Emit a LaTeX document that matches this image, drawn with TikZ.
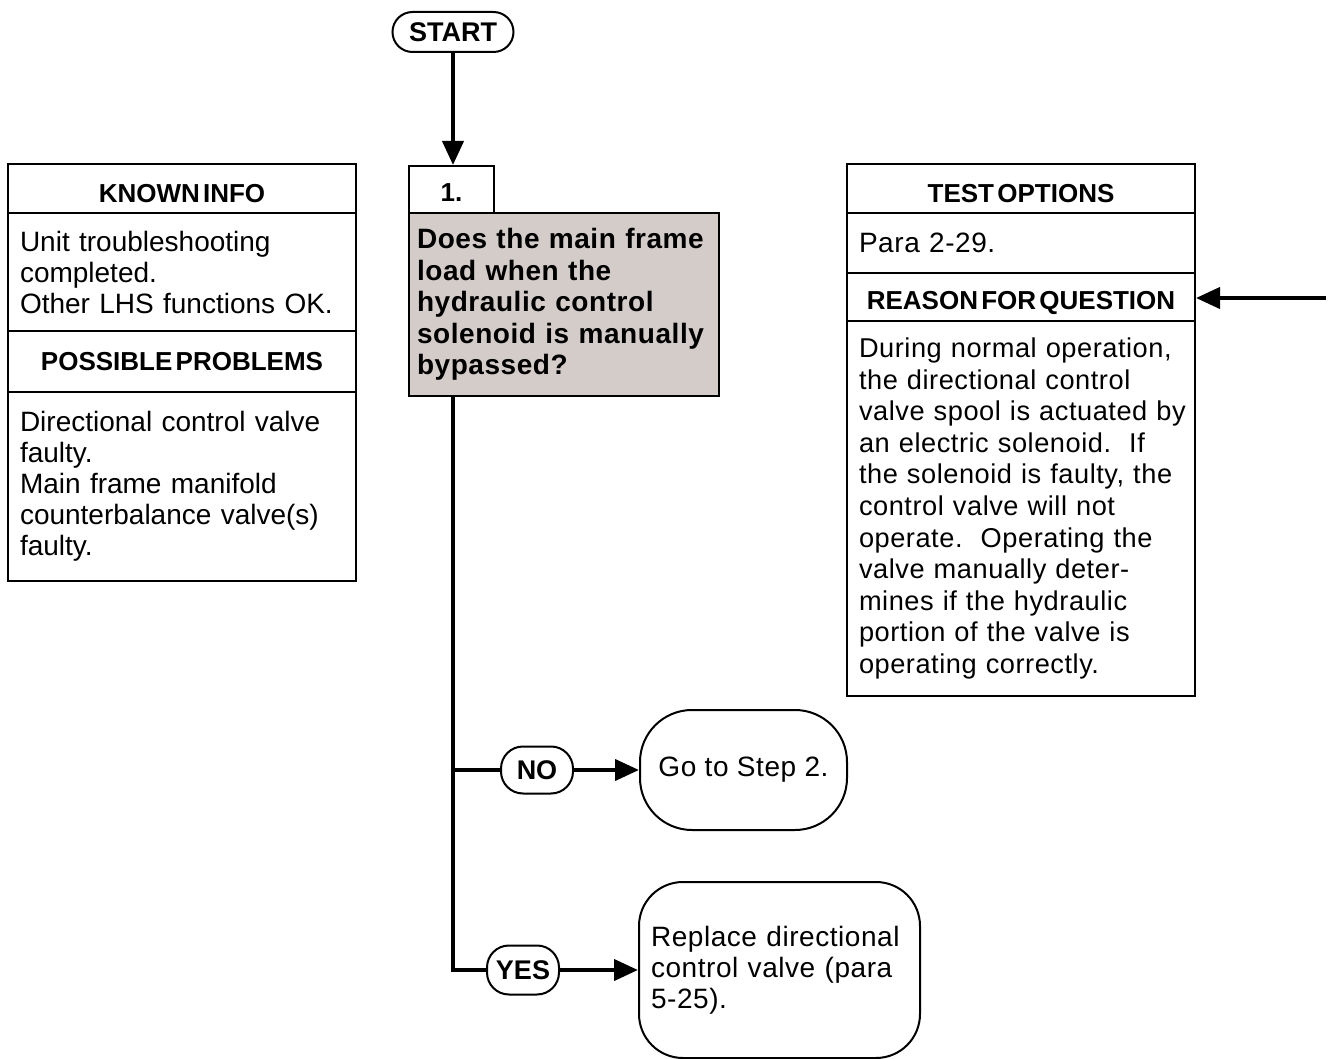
\documentclass[tikz,border=0pt]{standalone}
\usepackage{fontspec}
\setmainfont{Liberation Sans}
\newfontfamily\headfont[WordSpace=0.45]{Liberation Sans}
\newfontfamily\spacedfont[LetterSpace=2]{Liberation Sans}
\newfontfamily\askfont[LetterSpace=2]{Liberation Sans}
\usetikzlibrary{arrows.meta, positioning}
\definecolor{askgray}{RGB}{212,204,201}

\begin{document}
\begin{tikzpicture}[x=0.5pt,y=-0.5pt,
    frame/.style={draw,line width=1pt,anchor=north west,inner sep=0pt},
    head/.style={frame,minimum width=174pt,font=\headfont\bfseries\fontsize{13}{15}\selectfont},
    headlow/.style={text height=#1,text depth=0pt},
    body/.style={frame,inner xsep=6pt,text width=162pt,align=left,font=\fontsize{14}{15.5}\selectfont},
    pill/.style={draw,line width=1pt,rounded corners=11pt,inner sep=2pt,minimum height=23.5pt,
                 font=\headfont\bfseries\fontsize{13.5}{15}\selectfont},
    endbox/.style={draw,line width=1pt,inner xsep=6pt,align=left,font=\spacedfont\fontsize{14}{15.5}\selectfont},
    flow/.style={line width=2pt},
    arr/.style={flow,-{Triangle[length=12pt,width=10.5pt]}}]
    \useasboundingbox (0,0) rectangle (1330,1059);
    % left column
    \node[head,headlow=14.5pt,minimum height=24.5pt] (known) at (7,163) {KNOWN INFO};
    \node[body,minimum height=59pt] (knownbody) at (7,212)
      {Unit troubleshooting\\completed.\\Other LHS functions OK.};
    \node[head,minimum height=30.5pt] (probs) at (7,330) {POSSIBLE PROBLEMS};
    \node[body,minimum height=94.5pt] (probsbody) at (7,391)
      {Directional control valve\\faulty.\\Main frame manifold\\counterbalance valve(s)\\faulty.};
    % question column
    \node[pill,minimum width=60.5pt,rounded corners=10pt,minimum height=20pt] (start) at (453,32) {START};
    \node[frame,minimum width=42.5pt,minimum height=23.5pt,headlow=12pt,
          font=\bfseries\fontsize{13}{15}\selectfont] (one) at (408,165) {1.};
    \node[frame,fill=askgray,inner xsep=4pt,text width=147pt,minimum height=91.5pt,align=left,
          font=\askfont\bfseries\fontsize{14}{15.8}\selectfont] (ask) at (408,212)
      {Does the main frame\\load when the\\hydraulic control\\solenoid is manually\\bypassed?};
    \node[pill,minimum width=36pt] (no) at (537,770) {NO};
    \node[pill,minimum width=36pt,minimum height=24.5pt] (yes) at (523,970) {YES};
    \node[endbox,minimum width=103.5pt,minimum height=60pt,rounded corners=26pt] (step2) at (743.5,770)
      {Go to Step 2.};
    \node[endbox,text width=128.5pt,minimum height=88pt,rounded corners=22pt] (replace) at (779.5,970)
      {Replace directional\\control valve (para\\5-25).};
    % right column
    \node[head,headlow=14.5pt,minimum height=24.5pt] (tests) at (846,163) {TEST OPTIONS};
    \node[body,minimum height=30pt,font=\spacedfont\fontsize{14}{15.5}\selectfont] (testsbody) at (846,212)
      {Para 2-29.};
    \node[head,headlow=13pt,minimum height=24pt] (reason) at (846,272) {REASON FOR QUESTION};
    \node[body,minimum height=187.5pt,font=\spacedfont\fontsize{13.6}{15.8}\selectfont] (reasonbody) at (846,320)
      {During normal operation,\\the directional control\\\mbox{valve spool is actuated by}\\an electric solenoid.\ \ If\\the solenoid is faulty, the\\control valve will not\\operate.\ \ Operating the\\valve manually deter-\\mines if the hydraulic\\portion of the valve is\\operating correctly.};
    % connectors
    \draw[arr] (start.south) -- (start.south |- one.north);
    \coordinate (fork) at (start.south |- ask.south);
    \draw[flow] (fork) |- (no.west);
    \draw[flow] (fork) |- (yes.west);
    \draw[arr] (no.east) -- (step2.west);
    \draw[arr] (yes.east) -- (replace.west);
    \coordinate (rin) at (1326,298);
    \draw[arr] (rin) -- (rin -| reason.east);
  \end{tikzpicture}
\end{document}
